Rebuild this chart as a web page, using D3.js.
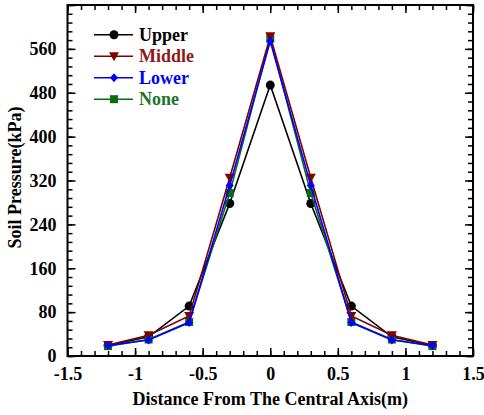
<!DOCTYPE html>
<html>
<head>
<meta charset="utf-8">
<script src="https://cdn.jsdelivr.net/npm/d3@7"></script>
<style>
  body { margin: 0; background: #fff; }
</style>
</head>
<body>
<div id="chart"></div>
<script>
// distance from central axis (m)
const distances = [-1.2, -0.9, -0.6, -0.3, 0, 0.3, 0.6, 0.9, 1.2];

// soil pressure (kPa) per position
const upper  = [19, 35, 91, 278, 494, 278, 91, 35, 19];
const middle = [20, 38, 73, 325, 583, 325, 73, 38, 20];
const lower  = [19, 29, 61, 311, 574, 311, 61, 29, 19];
const none   = [18, 30, 62, 297, 579, 297, 62, 30, 18];

const seriesNames = ["Upper", "Middle", "Lower", "None"];
const xTicks = [-1.5, -1, -0.5, 0, 0.5, 1, 1.5];
const yTicks = [0, 80, 160, 240, 320, 400, 480, 560];

const FONT = "'Liberation Serif', 'Times New Roman', 'DejaVu Serif', serif";

const W = 484, H = 415;
const margin = {top: 5, right: 11, bottom: 59, left: 67.5};
const width = W - margin.left - margin.right;
const height = H - margin.top - margin.bottom;

const svg = d3.select("#chart").append("svg").attr("width", W).attr("height", H);
const g = svg.append("g").attr("transform", "translate(" + [margin.left, margin.top] + ")");

const xScale = d3.scaleLinear().domain([-1.5, 1.5]).range([0, width]);
const yScale = d3.scaleLinear().domain([0, 640]).range([height, 0]);

const series = [
  {name: "Upper",  values: upper,  color: "#000000", text: "#000000", shape: d3.symbolCircle, size: 64},
  {name: "Middle", values: middle, color: "#800000", text: "#8b1a1a", shape: "tri",           size: 70},
  {name: "Lower",  values: lower,  color: "#0000ff", text: "#0000ff", shape: "dia",           size: 50},
  {name: "None",   values: none,   color: "#0a6b14", text: "#1e7328", shape: d3.symbolSquare, size: 64}
];

const xMinor = d3.range(-15, 16).map(i => i / 10);
const yMinor = d3.range(0, 41).map(i => i * 16);

// ticks point inward on all four sides
g.append("g").attr("transform", "translate(0," + height + ")")
  .call(d3.axisBottom(xScale).tickValues(xMinor).tickSize(-5).tickFormat(""));
g.append("g").attr("transform", "translate(0," + height + ")")
  .call(d3.axisBottom(xScale).tickValues(xTicks).tickSize(-8).tickPadding(11)
    .tickFormat(d => String(d)));
g.append("g").call(d3.axisTop(xScale).tickValues(xMinor).tickSize(-5).tickFormat(""));
g.append("g").call(d3.axisTop(xScale).tickValues(xTicks).tickSize(-8).tickFormat(""));
g.append("g").call(d3.axisLeft(yScale).tickValues(yMinor).tickSize(-5).tickFormat(""));
g.append("g")
  .call(d3.axisLeft(yScale).tickValues(yTicks.concat([640])).tickSize(-8).tickPadding(11)
    .tickFormat(d => d === 640 ? "" : d));
g.append("g").attr("transform", "translate(" + width + ",0)")
  .call(d3.axisRight(yScale).tickValues(yMinor).tickSize(-5).tickFormat(""));
g.append("g").attr("transform", "translate(" + width + ",0)")
  .call(d3.axisRight(yScale).tickValues(yTicks.concat([640])).tickSize(-8).tickFormat(""));

g.selectAll(".domain").remove();
g.selectAll(".tick line").attr("stroke", "#000").attr("stroke-width", 1.5);
g.selectAll(".tick text").attr("fill", "#000")
  .style("font-family", FONT).style("font-weight", "bold").style("font-size", "18px");

// frame
g.append("rect").attr("width", width).attr("height", height)
  .attr("fill", "none").attr("stroke", "#000").attr("stroke-width", 2);

// axis titles
svg.append("text")
  .attr("x", margin.left + width / 2).attr("y", 405)
  .attr("text-anchor", "middle")
  .style("font-family", FONT).style("font-weight", "bold").style("font-size", "18px")
  .text("Distance From The Central Axis(m)");
svg.append("text")
  .attr("transform", "translate(21," + (margin.top + height / 2 - 3) + ") rotate(-90)")
  .attr("text-anchor", "middle")
  .style("font-family", FONT).style("font-weight", "bold").style("font-size", "18px")
  .text("Soil Pressure(kPa)");

function symbolPath(s) {
  if (s.shape === "tri") return "M-5,-4L5,-4L0,5Z";
  if (s.shape === "dia") return "M0,-4.5L4,0L0,4.5L-4,0Z";
  return d3.symbol().type(s.shape).size(s.size)();
}

const line = d3.line().x(d => xScale(d[0])).y(d => yScale(d[1]));

// draw order so that Middle and Lower sit on top
const drawOrder = ["Upper", "None", "Middle", "Lower"];
drawOrder.forEach(name => {
  const s = series.find(d => d.name === name);
  const pts = distances.map((x, i) => [x, s.values[i]]);
  const sg = g.append("g");
  sg.append("path").datum(pts).attr("d", line)
    .attr("fill", "none").attr("stroke", s.color).attr("stroke-width", 1.6);
  sg.selectAll("path.mk").data(pts).enter().append("path")
    .attr("class", "mk")
    .attr("transform", d => "translate(" + [xScale(d[0]), yScale(d[1])] + ")")
    .attr("d", symbolPath(s)).attr("fill", s.color);
});

// legend
const legend = svg.append("g").attr("transform", "translate(94,34.7)");
series.forEach((s, i) => {
  const row = legend.append("g").attr("transform", "translate(0," + (i * 21.5) + ")");
  row.append("line").attr("x1", 0).attr("x2", 39).attr("y1", 0).attr("y2", 0)
    .attr("stroke", s.color).attr("stroke-width", 1.6);
  row.append("path").attr("transform", "translate(20,0)").attr("d", symbolPath(s)).attr("fill", s.color);
  row.append("text").attr("x", 45).attr("y", 6)
    .style("font-family", FONT).style("font-weight", "bold").style("font-size", "18px")
    .attr("fill", s.text).text(s.name);
});
</script>
</body>
</html>
